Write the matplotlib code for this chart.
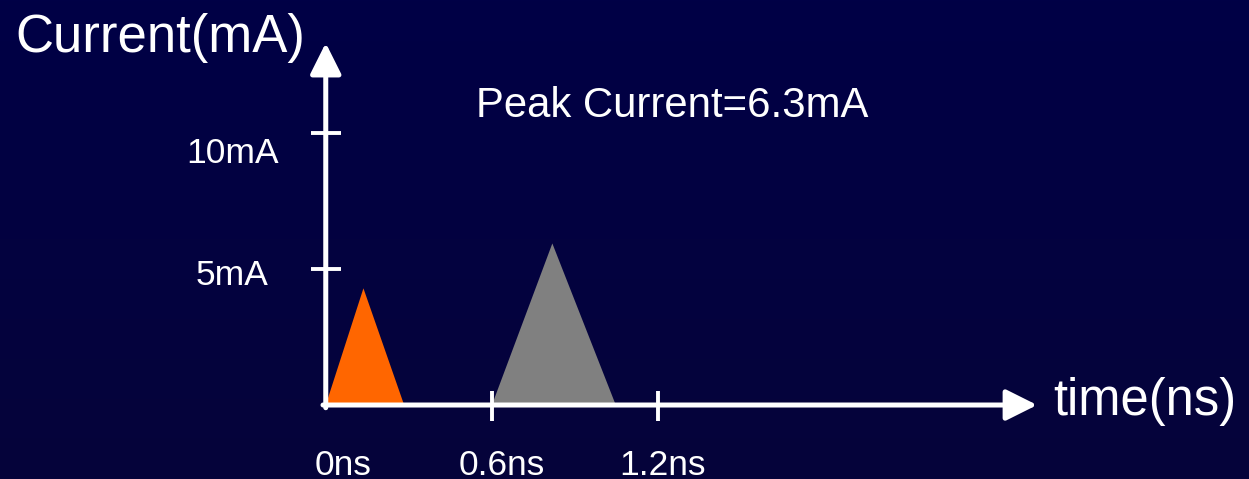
import numpy as np
import matplotlib
matplotlib.use("Agg")
import matplotlib.pyplot as plt
from matplotlib.colors import LinearSegmentedColormap

plt.rcParams['font.family'] = ['Liberation Sans', 'DejaVu Sans']

# pulse shapes (time in ns, current in mA)
orange_t = [0.0, 0.136, 0.283]
orange_i = [0.0, 4.29, 0.0]
gray_t = [0.6, 0.818, 1.047]
gray_i = [0.0, 5.94, 0.0]

x_ticks = [0.6, 1.2]
x_tick_labels = ['0ns', '0.6ns', '1.2ns']
x_label_pos = [0.062, 0.636, 1.214]
y_ticks = [5, 10]
y_tick_labels = ['5mA', '10mA']

# axis ranges chosen so the origin sits where the slide has it
x_min, x_max = -1.176, 3.333
y_min, y_max = -2.72, 14.89

fig = plt.figure(figsize=(12.49, 4.79), dpi=100)
ax = fig.add_axes([0, 0, 1, 1])
ax.set_xlim(x_min, x_max)
ax.set_ylim(y_min, y_max)
ax.axis('off')

# dark navy background
bg = LinearSegmentedColormap.from_list('bg', ['#000046', '#06043a'])
grad = np.linspace(0, 1, 256).reshape(-1, 1)
ax.imshow(grad, cmap=bg, extent=[x_min, x_max, y_min, y_max],
          aspect='auto', zorder=0)

# pulses
ax.fill(orange_t, orange_i, color='#ff6600', lw=0, zorder=2)
ax.fill(gray_t, gray_i, color='#808080', lw=0, zorder=2)

# axes with arrow heads
arrow = dict(arrowstyle='-|>,head_length=19,head_width=9.5', mutation_scale=1,
             color='white', lw=3.6, shrinkA=0, shrinkB=0)
ax.annotate('', xy=(2.568, 0), xytext=(-0.01, 0), arrowprops=arrow, zorder=3)
ax.annotate('', xy=(0, 13.31), xytext=(0, -0.1), arrowprops=arrow, zorder=3)

# tick marks
ax.vlines(x_ticks, -0.6, 0.5, color='white', lw=2.8, zorder=3)
ax.hlines(y_ticks, -0.054, 0.054, color='white', lw=2.8, zorder=3)

# tick labels
for x, lab in zip(x_label_pos, x_tick_labels):
    ax.text(x, -2.57, lab, color='white', fontsize=25.5, ha='center', va='baseline')
ax.text(-0.205, 4.41, y_tick_labels[0], color='white', fontsize=25.5, ha='right', va='baseline')
ax.text(-0.169, 8.9, y_tick_labels[1], color='white', fontsize=25.5, ha='right', va='baseline')

# axis titles and note
ax.text(-1.119, 12.98, 'Current(mA)', color='white', fontsize=38, va='baseline')
ax.text(2.625, -0.37, 'time(ns)', color='white', fontsize=36.5, va='baseline')
ax.text(0.543, 10.59, 'Peak Current=6.3mA', color='white', fontsize=30.2, va='baseline')

fig.savefig('out.png', dpi=100)
